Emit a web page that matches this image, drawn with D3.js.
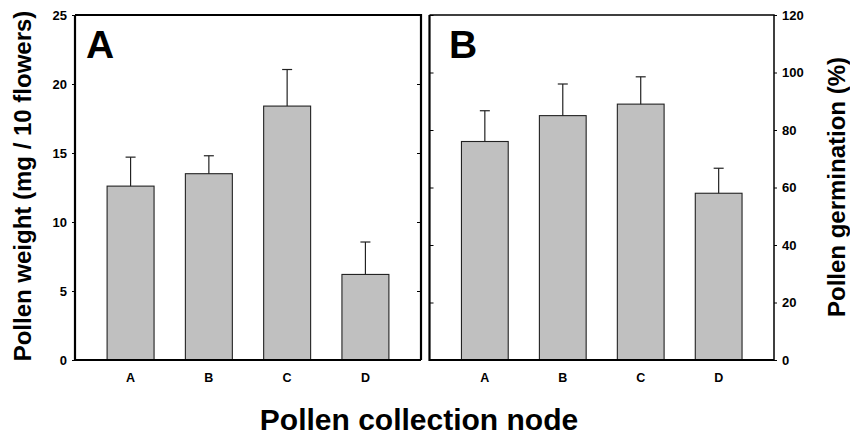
<!DOCTYPE html>
<html>
<head>
<meta charset="utf-8">
<script src="https://cdn.jsdelivr.net/npm/d3@7"></script>
<style>
  body { margin: 0; background: #fff; }
  svg { display: block; font-family: "Liberation Sans", Arial, sans-serif; }
</style>
</head>
<body>
<div id="chart"></div>
<script>

var categories = ["A", "B", "C", "D"];

// panel A - pollen weight (mg / 10 flowers)
var weightMean = [12.6, 13.5, 18.4, 6.2];
var weightErr = [2.1, 1.3, 2.65, 2.35];
var weightTicks = [0, 5, 10, 15, 20, 25];

// panel B - pollen germination (%)
var germMean = [76, 85, 89, 58];
var germErr = [10.7, 11, 9.5, 8.7];
var germTicks = [0, 20, 40, 60, 80, 100, 120];

// note: "top" is taken by window.top, so use plotTop / plotBottom
var width = 850,
    height = 437,
    plotTop = 15,
    plotBottom = 360,
    fontFam = "'Liberation Sans', Arial, sans-serif";

var svg = d3.select("#chart").append("svg")
    .attr("width", width)
    .attr("height", height);

function drawPanel(left, right, means, errs, ticks, maxY, letter, letterX, side){

    var data = categories.map(function(c, i) {
        return {cat: c, mean: means[i], err: errs[i]};
    });

    var x = d3.scaleBand()
        .domain(categories)
        .range([left, right])
        .paddingInner(0.4)
        .paddingOuter(0.41);

    var y = d3.scaleLinear()
        .domain([0, maxY])
        .range([plotBottom, plotTop]);

    var g = svg.append("g");

    // bars
    g.selectAll(".bar")
        .data(data)
        .enter().append("rect")
        .attr("class", "bar")
        .attr("x", function(d) { return x(d.cat); })
        .attr("y", function(d) { return y(d.mean); })
        .attr("width", x.bandwidth())
        .attr("height", function(d) { return plotBottom - y(d.mean); })
        .attr("fill", "#c0c0c0")
        .attr("stroke", "#222")
        .attr("stroke-width", 1.1);

    // error bars (upper only)
    g.selectAll(".err")
        .data(data)
        .enter().append("line")
        .attr("class", "err")
        .attr("x1", function(d) { return x(d.cat) + x.bandwidth()/2; })
        .attr("x2", function(d) { return x(d.cat) + x.bandwidth()/2; })
        .attr("y1", function(d) { return y(d.mean); })
        .attr("y2", function(d) { return y(d.mean + d.err); })
        .attr("stroke", "#222")
        .attr("stroke-width", 1.2);

    g.selectAll(".cap")
        .data(data)
        .enter().append("line")
        .attr("class", "cap")
        .attr("x1", function(d) { return x(d.cat) + x.bandwidth()/2 - 5; })
        .attr("x2", function(d) { return x(d.cat) + x.bandwidth()/2 + 5; })
        .attr("y1", function(d) { return y(d.mean + d.err); })
        .attr("y2", function(d) { return y(d.mean + d.err); })
        .attr("stroke", "#222")
        .attr("stroke-width", 1.2);

    // outer axis with labels
    var outer = side == "left"
        ? d3.axisLeft(y).tickValues(ticks).tickSize(3).tickPadding(5)
        : d3.axisRight(y).tickValues(ticks).tickSize(3).tickPadding(5);

    g.append("g")
        .attr("transform", "translate(" + (side == "left" ? left : right) + ",0)")
        .call(outer)
        .attr("font-family", fontFam)
        .attr("font-size", 13)
        .attr("font-weight", "bold")
        .call(function(a) {
            a.select(".domain").remove();
            a.selectAll(".tick text").attr("fill", "#000");
            a.selectAll(".tick line").attr("stroke", "#000");
        });

    // inner ticks on the opposite side
    var inner = side == "left"
        ? d3.axisLeft(y).tickValues(ticks).tickSize(4).tickFormat("")
        : d3.axisRight(y).tickValues(ticks).tickSize(4).tickFormat("");

    g.append("g")
        .attr("transform", "translate(" + (side == "left" ? right : left) + ",0)")
        .call(inner)
        .call(function(a) {
            a.select(".domain").remove();
            a.selectAll(".tick line").attr("stroke", "#000");
        });

    // category labels
    g.selectAll(".cat")
        .data(categories)
        .enter().append("text")
        .attr("class", "cat")
        .attr("x", function(d) { return x(d) + x.bandwidth()/2; })
        .attr("y", 382)
        .attr("text-anchor", "middle")
        .attr("font-size", 12.5)
        .attr("font-weight", "bold")
        .text(function(d) { return d; });

    // frame
    g.append("path")
        .attr("d", "M" + left + "," + plotTop + "V" + plotBottom + "H" + right)
        .attr("fill", "none")
        .attr("stroke", "#000")
        .attr("stroke-width", 2.2);
    g.append("path")
        .attr("d", "M" + left + "," + plotTop + "H" + right + "V" + plotBottom)
        .attr("fill", "none")
        .attr("stroke", "#000")
        .attr("stroke-width", side == "left" ? 2.2 : 1.5);

    // panel letter
    g.append("text")
        .attr("x", letterX)
        .attr("y", 58)
        .attr("font-size", 39)
        .attr("font-weight", "bold")
        .text(letter);
}

drawPanel(75, 421, weightMean, weightErr, weightTicks, 25, "A", 86, "left");
drawPanel(429.5, 774, germMean, germErr, germTicks, 120, "B", 449, "right");

// axis titles
svg.append("text")
    .attr("transform", "translate(31,186) rotate(-90)")
    .attr("text-anchor", "middle")
    .attr("font-size", 24)
    .attr("font-weight", "bold")
    .text("Pollen weight (mg / 10 flowers)");

svg.append("text")
    .attr("transform", "translate(845,187) rotate(-90)")
    .attr("text-anchor", "middle")
    .attr("font-size", 24)
    .attr("font-weight", "bold")
    .text("Pollen germination (%)");

svg.append("text")
    .attr("x", 419)
    .attr("y", 430)
    .attr("text-anchor", "middle")
    .attr("font-size", 30)
    .attr("font-weight", "bold")
    .text("Pollen collection node");

</script>
</body>
</html>
